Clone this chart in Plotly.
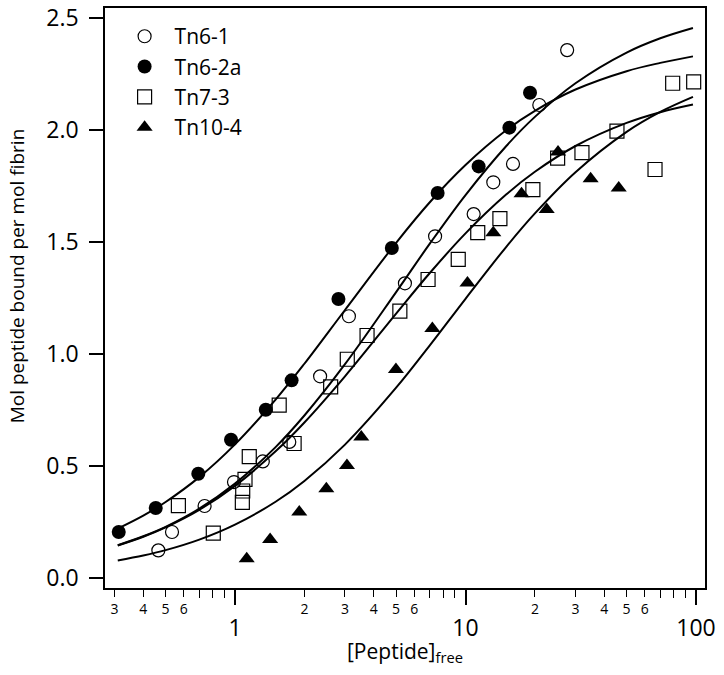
import plotly.graph_objects as go

# ---- measured data ----
tn6_1_x = [0.465, 0.533, 0.738, 0.99, 1.32, 1.72, 2.34, 3.12, 5.46, 7.38, 10.85, 13.2, 16.07, 20.9, 27.6]
tn6_1_y = [0.125, 0.207, 0.323, 0.430, 0.522, 0.609, 0.902, 1.17, 1.317, 1.527, 1.626, 1.768, 1.850, 2.113, 2.358]

tn6_2a_x = [0.313, 0.453, 0.693, 0.961, 1.36, 1.76, 2.81, 4.79, 7.57, 11.4, 15.5, 19.05]
tn6_2a_y = [0.207, 0.314, 0.467, 0.619, 0.753, 0.884, 1.247, 1.475, 1.720, 1.839, 2.012, 2.168]

tn7_3_x = [0.568, 0.805, 1.076, 1.08, 1.105, 1.153, 1.555, 1.805, 2.60, 3.07, 3.74, 5.19, 6.88, 9.3,
           11.3, 14.1, 19.6, 25.1, 32.0, 45.4, 66.4, 79.2, 97.7]
tn7_3_y = [0.325, 0.202, 0.339, 0.390, 0.442, 0.543, 0.773, 0.602, 0.855, 0.978, 1.084, 1.193, 1.334, 1.424,
           1.543, 1.606, 1.735, 1.876, 1.900, 1.996, 1.825, 2.210, 2.216]

tn10_4_x = [1.124, 1.42, 1.90, 2.49, 3.06, 3.53, 4.99, 7.18, 10.2, 13.2, 17.5, 22.5, 25.2, 34.9, 46.2]
tn10_4_y = [0.088, 0.174, 0.296, 0.400, 0.504, 0.631, 0.932, 1.115, 1.318, 1.543, 1.717, 1.646, 1.903, 1.784, 1.742]

# fitted curves
curve_x = [0.31, 0.4, 0.5, 0.7, 1, 1.5, 2, 3, 5, 7, 10, 15, 20, 30, 50, 70, 97]
fit_tn6_1 = [0.148, 0.188, 0.230, 0.311, 0.423, 0.586, 0.727, 0.956, 1.278, 1.494, 1.711, 1.929, 2.060, 2.210, 2.347, 2.411, 2.457]
fit_tn6_2a = [0.222, 0.280, 0.341, 0.452, 0.598, 0.798, 0.958, 1.198, 1.498, 1.679, 1.845, 2.000, 2.087, 2.182, 2.264, 2.301, 2.330]
fit_tn7_3 = [0.147, 0.186, 0.228, 0.306, 0.413, 0.567, 0.696, 0.902, 1.182, 1.363, 1.540, 1.713, 1.815, 1.930, 2.033, 2.081, 2.115]
fit_tn10_4 = [0.080, 0.102, 0.126, 0.173, 0.240, 0.342, 0.435, 0.597, 0.851, 1.040, 1.248, 1.479, 1.629, 1.813, 1.993, 2.082, 2.149]

major_ticks = [1, 10, 100]
major_text = ["1", "10", "100"]
labeled_minor = [0.3, 0.4, 0.5, 0.6, 2, 3, 4, 5, 6, 20, 30, 40, 50, 60]
labeled_minor_text = ["3", "4", "5", "6", "2", "3", "4", "5", "6", "2", "3", "4", "5", "6"]
unlabeled_minor = [0.7, 0.8, 0.9, 7, 8, 9, 70, 80, 90]
y_ticks = [0.0, 0.5, 1.0, 1.5, 2.0, 2.5]

x_title = "[Peptide]<sub>free</sub>"
y_title = "Mol peptide bound per mol fibrin"

FONT = "Open Sans"
X_RANGE = [-0.564, 2.039]

fig = go.Figure()

for cy in [fit_tn6_1, fit_tn6_2a, fit_tn7_3, fit_tn10_4]:
    fig.add_trace(go.Scatter(x=curve_x, y=cy, mode="lines", line=dict(color="black", width=2, shape="spline"),
                             showlegend=False, hoverinfo="skip"))

fig.add_trace(go.Scatter(x=tn6_1_x, y=tn6_1_y, mode="markers", name="Tn6-1",
                         marker=dict(symbol="circle-open", size=13, color="black", line=dict(width=1.2))))
fig.add_trace(go.Scatter(x=tn6_2a_x, y=tn6_2a_y, mode="markers", name="Tn6-2a",
                         marker=dict(symbol="circle", size=14, color="black")))
fig.add_trace(go.Scatter(x=tn7_3_x, y=tn7_3_y, mode="markers", name="Tn7-3",
                         marker=dict(symbol="square-open", size=14, color="black", line=dict(width=1.2))))
fig.add_trace(go.Scatter(x=tn10_4_x, y=tn10_4_y, mode="markers", name="Tn10-4",
                         marker=dict(symbol="triangle-up", size=14, color="black")))

# helper trace so the axis carrying the small digit labels is drawn
fig.add_trace(go.Scatter(x=[1], y=[None], xaxis="x2", yaxis="y", mode="markers", showlegend=False,
                         hoverinfo="skip"))

fig.update_layout(
    width=724, height=675,
    margin=dict(l=105, r=19, t=8, b=87, autoexpand=False),
    paper_bgcolor="white", plot_bgcolor="white",
    font=dict(family=FONT, color="black"),
    showlegend=True,
    legend=dict(x=0.016, y=0.986, xanchor="left", yanchor="top", bgcolor="rgba(0,0,0,0)",
                font=dict(size=21, family=FONT), itemwidth=50, tracegroupgap=0),
    xaxis=dict(type="log", range=X_RANGE, showgrid=False, zeroline=False, automargin=False,
               showline=True, linecolor="black", linewidth=1.5, mirror=True,
               tickmode="array", tickvals=major_ticks, ticktext=major_text,
               ticks="outside", ticklen=15, tickwidth=1.5, tickcolor="black",
               tickfont=dict(size=23, family=FONT), ticklabelstandoff=4, ticklabeloverflow="allow",
               minor=dict(tickmode="array", tickvals=unlabeled_minor, ticks="outside", ticklen=8,
                          tickwidth=1.2, tickcolor="black", showgrid=False)),
    xaxis2=dict(type="log", range=X_RANGE, overlaying="x", anchor="y", side="bottom", automargin=False,
                showgrid=False, zeroline=False, showline=False,
                tickmode="array", tickvals=labeled_minor, ticktext=labeled_minor_text,
                ticks="outside", ticklen=8, tickwidth=1.2, tickcolor="black",
                tickfont=dict(size=14, family=FONT), ticklabeloverflow="allow"),
    yaxis=dict(range=[-0.043, 2.546], showgrid=False, zeroline=False, automargin=False,
               showline=True, linecolor="black", linewidth=1.5, mirror=True,
               tickmode="array", tickvals=y_ticks, tickformat=".1f",
               ticks="outside", ticklen=14, tickwidth=1.5, tickcolor="black",
               tickfont=dict(size=23, family=FONT), ticklabelstandoff=6, ticklabeloverflow="allow"),
    annotations=[
        dict(text=x_title, xref="paper", yref="paper", x=0.5, y=-0.11, xanchor="center", yanchor="middle",
             showarrow=False, font=dict(size=21, family=FONT)),
        dict(text=y_title, xref="paper", yref="paper", x=-0.146, y=0.538, xanchor="center", yanchor="middle",
             textangle=-90, showarrow=False, font=dict(size=19, family=FONT)),
    ],
)

# remove the default page margin so the 724x675 figure fills the window exactly; hide the modebar
fig.write_html("out.html", config={"displayModeBar": False},
               post_script="document.body.style.margin='0';")
